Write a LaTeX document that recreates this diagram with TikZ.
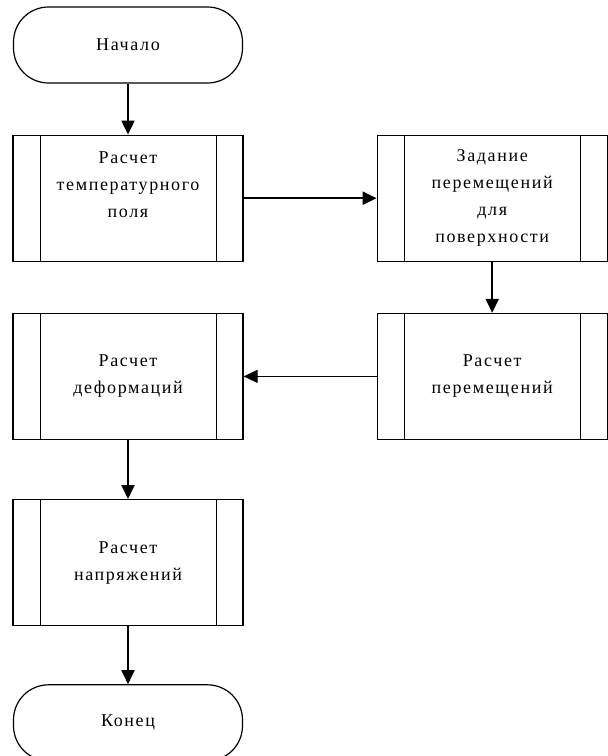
\documentclass[tikz,border=0pt]{standalone}
\usepackage{fontspec}
\setmainfont{Liberation Serif}[LetterSpace=9]
\usetikzlibrary{arrows.meta,positioning}
\tikzset{
  >={Triangle[length=14pt,width=13pt]},
  term/.style  ={draw,line width=1.2pt,rounded corners=35pt,minimum width=229pt,
                 minimum height=76pt,align=center,font=\fontsize{18}{27}\selectfont},
  proc/.style  ={draw,line width=1.2pt,minimum width=230pt,minimum height=126pt,
                 align=center,font=\fontsize{18}{27}\selectfont,
                 path picture={
                   \draw[line width=1pt] ([xshift=27pt]path picture bounding box.north west) --
                         ([xshift=27pt]path picture bounding box.south west);
                   \draw[line width=1pt] ([xshift=-27pt]path picture bounding box.north east) --
                         ([xshift=-27pt]path picture bounding box.south east);}},
  ar/.style    ={->,line width=2pt},
  art/.style   ={->,line width=0.9pt},
}
\begin{document}
\begin{tikzpicture}[x=1pt,y=1pt]
\useasboundingbox (0,0) rectangle (608,-756);
% left column
\node[term] (start) at (128,-45) {Начало};
\node[proc,below=51pt of start] (temp) {Расчет\\температурного\\поля\\\mbox{}};
% right column
\node[proc,right=133pt of temp] (zad) {Задание\\перемещений\\для\\поверхности};
\node[proc,below=51pt of zad] (perem) {Расчет\\перемещений};
% back to the left
\node[proc,left=133pt of perem] (deform) {Расчет\\деформаций};
\node[proc,below=59pt of deform] (napr) {Расчет\\напряжений};
\node[term,below=58pt of napr] (stop) {Конец};

\draw[ar] (start) -- (temp);
\draw[ar] (temp) -- (zad);
\draw[ar] (zad) -- (perem);
\draw[art] (perem) -- (deform);
\draw[ar] (deform) -- (napr);
\draw[ar] (napr) -- (stop);
\end{tikzpicture}
\end{document}
